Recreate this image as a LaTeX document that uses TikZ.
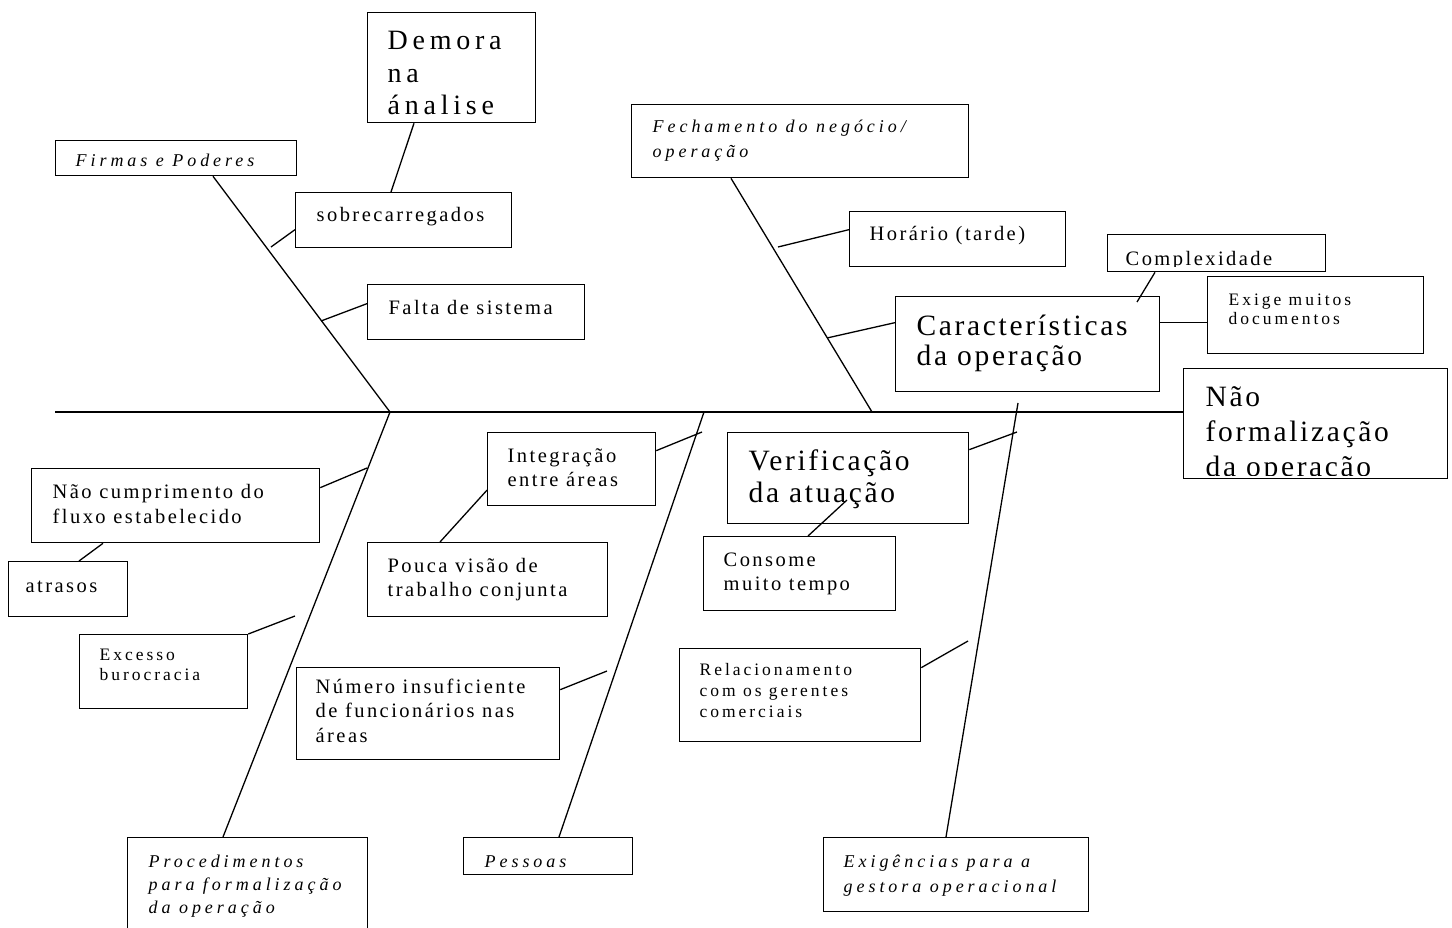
\documentclass[tikz,border=0pt]{standalone}
\usepackage{fontspec}
\setmainfont{Liberation Serif}
\newfontfamily\spaced[LetterSpace=12]{Liberation Serif}
\newfontfamily\sspaced[LetterSpace=17]{Liberation Serif}
\newfontfamily\ispaced[LetterSpace=22]{Liberation Serif}
\newfontfamily\lspaced[LetterSpace=9]{Liberation Serif}
\usetikzlibrary{calc}
\begin{document}
\begin{tikzpicture}[x=1pt,y=-1pt,line width=1.3pt,
    box/.style={draw,inner sep=0pt,anchor=north west},
    txt/.style={inner sep=0pt,anchor=base west,align=left},
    ftreg/.style={font=\spaced\fontsize{20.5}{#1}\selectfont},ftreg/.default=24.5,
    ftsmall/.style={font=\sspaced\fontsize{17.5}{#1}\selectfont},ftsmall/.default=21,
    ftital/.style={font=\ispaced\itshape\fontsize{18}{#1}\selectfont},ftital/.default=24.5,
    ftbig/.style={font=\lspaced\fontsize{29.5}{#1}\selectfont},ftbig/.default=32,
    ftdem/.style={font=\sspaced\fontsize{28}{32.5}\selectfont}]
\useasboundingbox (0,0) rectangle (1452,928);
% boxes
\node[box,minimum width=168,minimum height=110] (demora) at (367,12) {};
\node[box,minimum width=241,minimum height=35] (firmas) at (55,140) {};
\node[box,minimum width=216,minimum height=55] (sobre) at (295,192) {};
\node[box,minimum width=217,minimum height=55] (falta) at (367,284) {};
\node[box,minimum width=337,minimum height=73] (fech) at (631,104) {};
\node[box,minimum width=216,minimum height=55] (horario) at (849,211) {};
\node[box,minimum width=218,minimum height=37] (complex) at (1107,234) {};
\node[box,minimum width=216,minimum height=77] (exige) at (1207,276) {};
\node[box,minimum width=264,minimum height=95] (caract) at (895,296) {};
\node[box,minimum width=264,minimum height=110] (head) at (1183,368) {};
\node[box,minimum width=168,minimum height=73] (integ) at (487,432) {};
\node[box,minimum width=241,minimum height=91] (verif) at (727,432) {};
\node[box,minimum width=288,minimum height=74] (naocump) at (31,468) {};
\node[box,minimum width=119,minimum height=55] (atrasos) at (8,561) {};
\node[box,minimum width=240,minimum height=74] (pouca) at (367,542) {};
\node[box,minimum width=192,minimum height=74] (consome) at (703,536) {};
\node[box,minimum width=168,minimum height=74] (excesso) at (79,634) {};
\node[box,minimum width=263,minimum height=92] (numero) at (296,667) {};
\node[box,minimum width=241,minimum height=93] (relac) at (679,648) {};
\node[box,minimum width=240,minimum height=120] (proc) at (127,837) {};
\node[box,minimum width=169,minimum height=37] (pessoas) at (463,837) {};
\node[box,minimum width=265,minimum height=74] (exig) at (823,837) {};
% texts (placed at the baseline of their last line)
\node[txt,ftdem] (demora-t) at (387,115) {Demora\\na\\ánalise};
\node[txt,ftital] (firmas-t) at (75,167) {Firmas e Poderes};
\node[txt,ftreg] (sobre-t) at (316,222) {sobrecarregados};
\node[txt,ftreg] (falta-t) at (388,315) {Falta de sistema};
\node[txt,ftital] (fech-t) at (652,157.5) {Fechamento do negócio/\\operação};
\node[txt,ftreg] (horario-t) at (869,241) {Horário (tarde)};
\begin{scope}
  \clip (complex.north west) rectangle ([yshift=6]complex.south east);
  \node[txt,ftreg] (complex-t) at (1125,266) {Complexidade};
\end{scope}
\node[txt,ftsmall=19.5] (exige-t) at (1228,324.5) {Exige muitos\\documentos};
\node[txt,ftbig=30] (caract-t) at (916,365) {Características\\da operação};
\begin{scope}
  \clip (head.north west) rectangle ([yshift=4]head.south east);
  \node[txt,ftbig=35] (head-t) at (1205,476) {Não\\formalização\\da operação};
\end{scope}
\node[txt,ftreg] (integ-t) at (507,486.5) {Integração\\entre áreas};
\node[txt,ftbig] (verif-t) at (748,502) {Verificação\\da atuação};
\node[txt,ftreg=25] (naocump-t) at (52,523) {Não cumprimento do\\fluxo estabelecido};
\node[txt,ftreg] (atrasos-t) at (25,592) {atrasos};
\node[txt,ftreg] (pouca-t) at (387,596.5) {Pouca visão de\\trabalho conjunta};
\node[txt,ftreg] (consome-t) at (723,590.5) {Consome\\muito tempo};
\node[txt,ftsmall=20] (excesso-t) at (99,680) {Excesso\\burocracia};
\node[txt,ftreg] (numero-t) at (315,742) {Número insuficiente\\de funcionários nas\\áreas};
\node[txt,ftsmall] (relac-t) at (699,717) {Relacionamento\\com os gerentes\\comerciais};
\node[txt,ftital=23] (proc-t) at (148,913) {Procedimentos\\para formalização\\da operação};
\node[txt,ftital] (pessoas-t) at (484,867) {Pessoas};
\node[txt,ftital=25] (exig-t) at (843,892) {Exigências para a\\gestora operacional};
% spine and bones
\coordinate (tail) at (55,412);
\coordinate (jA) at (390,412);
\coordinate (jB) at (704,412);
\coordinate (jC) at (872,412);
\coordinate (jD) at (1018,403);
\draw (tail) -- (head.west |- tail);
\draw ([xshift=158]firmas.south west) -- (jA);
\draw ([xshift=100]fech.south west) -- (jC);
\draw ([xshift=96]proc.north west) -- (jA);
\draw ([xshift=96]pessoas.north west) -- (jB);
\draw ([xshift=123]exig.north west) -- (jD);
% ticks
\coordinate (t1) at (271,247);
\coordinate (t2) at (321,321);
\coordinate (t3) at (778,247);
\coordinate (t4) at (827,338);
\coordinate (t5) at (367,468);
\coordinate (t6) at (295,616);
\coordinate (t7) at (702,432);
\coordinate (t8) at (607,671);
\coordinate (t9) at (1017,432);
\coordinate (t10) at (968,641);
\draw (t1) -- ([yshift=-9.5]sobre.west);
\draw (t2) -- ([yshift=8.5]falta.west);
\draw (t3) -- ([yshift=9.5]horario.west);
\draw (t4) -- ([yshift=21.5]caract.west);
\draw (t5) -- ([yshift=18]naocump.east);
\draw (t6) -- (excesso.north east);
\draw (t7) -- ([yshift=18.5]integ.east);
\draw (t8) -- ([yshift=24]numero.east);
\draw (t9) -- ([yshift=28.5]verif.east);
\draw (t10) -- ([yshift=27.5]relac.east);
\draw ([xshift=47]demora.south west) -- ([xshift=96]sobre.north west);
\draw ([xshift=48]complex.south west) -- ([xshift=242,yshift=-6]caract.north west);
\draw ([yshift=21.5]caract.east) -- ([yshift=-7.5]exige.west);
\draw ([xshift=72]naocump.south west) -- ([xshift=71]atrasos.north west);
\draw ([xshift=73]pouca.north west) -- ([yshift=-21]integ.west);
\draw ([xshift=105]consome.north west) -- ([xshift=120,yshift=-68]verif.north west);
\end{tikzpicture}
\end{document}
